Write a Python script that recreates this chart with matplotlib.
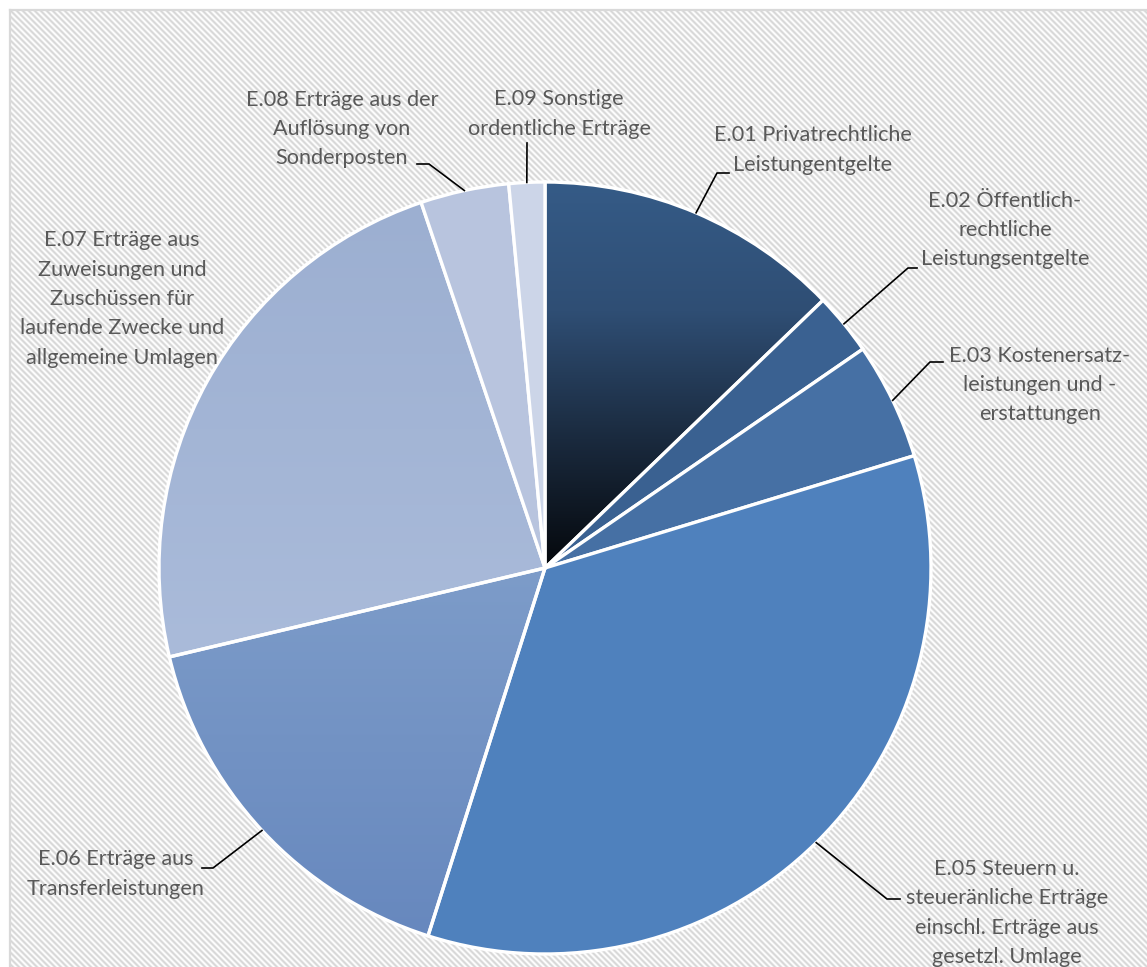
import numpy as np
import matplotlib.pyplot as plt
from matplotlib.colors import LinearSegmentedColormap, to_rgb

# ---------- data ----------
labels = [
    "E.01 Privatrechtliche\nLeistungentgelte",
    "E.02 Öffentlich-\nrechtliche\nLeistungsentgelte",
    "E.03 Kostenersatz-\nleistungen und -\nerstattungen",
    "E.05 Steuern u.\nsteueränliche Erträge\neinschl. Erträge aus\ngesetzl. Umlage",
    "E.06 Erträge aus\nTransferleistungen",
    "E.07 Erträge aus\nZuweisungen und\nZuschüssen für\nlaufende Zwecke und\nallgemeine Umlagen",
    "E.08 Erträge aus der\nAuflösung von\nSonderposten",
    "E.09 Sonstige\nordentliche Erträge",
]
shares = [12.8, 2.6, 4.9, 34.6, 16.4, 23.5, 3.7, 1.5]
colors = ["#345a86", "#3a6191", "#4670a4", "#4f81bd",
          "#7291c4", "#a3b5d6", "#b8c4de", "#ccd5e8"]

# slices with a vertical colour gradient (top -> bottom)
gradients = {
    0: ["#355b87", "#2f4e74", "#1a2a3e", "#05080c"],
    4: ["#7d9cc9", "#6788be"],
    5: ["#9cafd1", "#aabbda"],
}

# ---------- layout (pixels) ----------
W, H = 1147, 967
CX, CY, R = 545, 568, 386
TXT = "#595959"

# label block centre and leader elbow/end points for each slice
label_pos = [(813, 150), (1005, 230), (1040, 385), (1007, 913),
             (116, 874), (122, 299), (342, 129), (559, 114)]
leaders = [[(717, 173), (729, 173)],
           [(908, 268), (917, 268)],
           [(930, 362), (943, 362)],
           [(887, 899), (900, 899)],
           [(213, 868), (202, 868)],
           None,
           [(429, 164), (417, 164)],
           [(527, 143)]]


def px(x, y):
    return (x - CX) / R, (CY - y) / R


fig = plt.figure(figsize=(W / 100, H / 100), dpi=100)

# hatched background
bg = fig.add_axes([0, 0, 1, 1], zorder=-1)
yy, xx = np.mgrid[0:H, 0:W]
stripe = 0.5 + 0.5 * np.cos(2 * np.pi * (xx - yy) / 6.0)
tex = 1.0 - stripe[..., None] * (1.0 - np.array(to_rgb("#d6d6d6")))
tex[:10, :] = 1.0
tex[:, :10] = 1.0
bg.imshow(tex, extent=(0, W, H, 0), interpolation="bilinear")
bg.plot([10, W + 5], [10, 10], color="#d9d9d9", lw=1.6)
bg.plot([10, 10], [10, H + 5], color="#d9d9d9", lw=1.6)
bg.set_xlim(0, W)
bg.set_ylim(H, 0)
bg.axis("off")

# pie
ax = fig.add_axes([(CX - R) / W, (H - CY - R) / H, 2 * R / W, 2 * R / H])
ax.set_facecolor("none")
face = [("none" if i in gradients else c) for i, c in enumerate(colors)]
wedges, _ = ax.pie(shares, colors=face, startangle=90, counterclock=False,
                   radius=1.0,
                   wedgeprops=dict(edgecolor="white", linewidth=2.4))
ax.set_xlim(-1, 1)
ax.set_ylim(-1, 1)
ax.set_aspect("equal")
ax.axis("off")

for i, stops in gradients.items():
    w = wedges[i]
    cmap = LinearSegmentedColormap.from_list(f"g{i}", stops)
    grad = np.linspace(0, 1, 256)[:, None]
    im = ax.imshow(grad, cmap=cmap, extent=(-1, 1, -1, 1), origin="upper",
                   aspect="auto", zorder=0.9)
    # gradient spans the wedge's own vertical extent
    verts = w.get_path().vertices
    tr = w.get_patch_transform()
    pts = tr.transform(verts)
    im.set_extent((-1, 1, pts[:, 1].min(), pts[:, 1].max()))
    im.set_clip_path(w)

# labels with leader lines
for i, (w, lab) in enumerate(zip(wedges, labels)):
    mid = np.deg2rad((w.theta1 + w.theta2) / 2)
    start = (np.cos(mid), np.sin(mid))
    tx, ty = px(*label_pos[i])
    ax.text(tx, ty, lab, ha="center", va="center", multialignment="center",
            fontsize=15.6, color=TXT, linespacing=1.58,
            family=["Lato", "DejaVu Sans"])
    if leaders[i]:
        pts = [start] + [px(*p) for p in leaders[i]]
        ax.plot([p[0] for p in pts], [p[1] for p in pts], color="black",
                lw=1.2, clip_on=False, zorder=5)

fig.savefig("out.png", dpi=100)
